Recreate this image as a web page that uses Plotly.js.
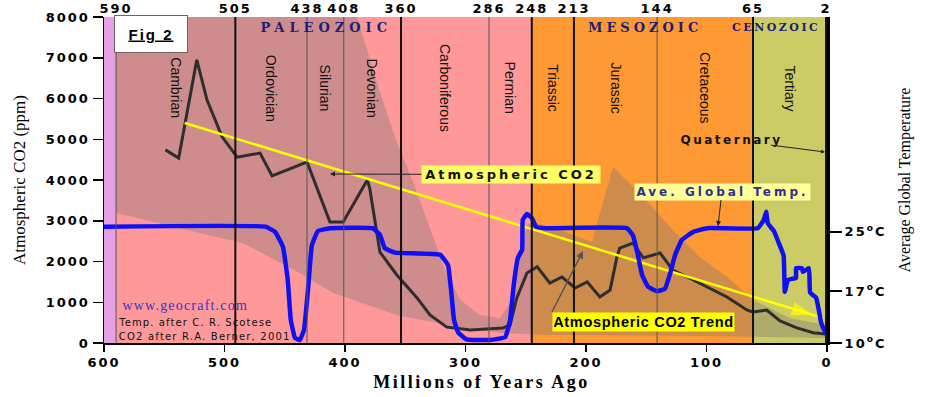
<!DOCTYPE html>
<html><head><meta charset="utf-8">
<script src="https://cdn.plot.ly/plotly-3.0.1.min.js"></script>
<style>html,body{margin:0;padding:0;background:#fff}#chart{width:925px;height:397px}</style>
</head><body><div id="chart"></div>
<script>
// ---------------- data ----------------
const co2Age = [549, 538, 523, 514.5, 502, 489.5, 470.5, 460.5, 431.5, 412.5, 401.5, 381.5, 379.5, 371, 357, 340, 329.5, 315.5, 296, 269, 263, 257.5, 249, 240.5, 230, 220, 209, 199, 188.5, 180, 174.5, 172, 161, 152.5, 138.5, 128, 116, 105.5, 83, 66.5, 61.5, 50, 39, 25, 11.5, 1];
const co2Ppm = [4740, 4540, 6950, 5960, 5060, 4560, 4660, 4100, 4440, 2970, 2970, 4000, 3800, 2230, 1670, 1100, 690, 390, 320, 370, 440, 1100, 1720, 1870, 1470, 1620, 1350, 1500, 1130, 1300, 2090, 2330, 2450, 2090, 2210, 1790, 1620, 1470, 1130, 810, 760, 810, 540, 370, 250, 220];

const tempAge = [600, 466, 458, 451.5, 447.5, 445, 441.5, 437.5, 434, 430.5, 427.5, 422.5, 412.5, 377, 371, 367, 358.5, 321, 314.5, 312, 309.5, 306, 299, 280, 267, 263, 260, 256.5, 253, 252.5, 249, 245, 241.5, 234, 166, 161, 157, 153.5, 148.5, 141, 134.5, 130.5, 126, 120.5, 111, 99.5, 57.5, 52.5, 50.5, 49, 44, 40, 36, 35, 32.5, 25.7, 25.7, 20.7, 20, 15, 14, 9, 6.5, 5, 2.5, 0.5];
const tempC = [25.7, 25.7, 25.0, 23.0, 18.5, 13.1, 10.7, 10.4, 11.8, 17.6, 23.2, 25.1, 25.5, 25.5, 24.6, 22.8, 22.2, 21.9, 20.5, 17.2, 13.1, 11.4, 10.5, 10.4, 10.8, 13.1, 17.8, 21.5, 22.6, 26.6, 27.4, 26.9, 25.7, 25.5, 25.5, 24.5, 21.9, 19.2, 17.6, 17.0, 17.3, 19.2, 21.9, 23.9, 25.0, 25.5, 25.5, 26.6, 27.7, 26.1, 25.1, 23.5, 21.8, 16.9, 18.5, 18.8, 20.1, 20.1, 19.6, 20.1, 16.8, 16.1, 14.2, 12.8, 11.8, 11.2];

// CO2 uncertainty envelope
const envUpperAge = [590, 390, 381.5, 371, 357, 343.5, 329.5, 317, 304.5, 288, 271.5, 261.5, 255, 249, 244, 221.5, 195, 188.5, 177.5, 152.5, 128, 105.5, 83, 61.5, 30.5, 0.8];
const envUpperPpm = [8000, 8000, 7190, 6160, 4930, 3950, 2820, 1790, 1060, 690, 610, 1060, 2040, 2900, 2970, 2770, 2480, 3190, 4320, 3580, 2770, 2110, 1620, 1060, 610, 440];
const envLowerAge = [0.8, 105.5, 238, 271.5, 304.5, 354.5, 410, 437.5, 484.5, 590];
const envLowerPpm = [120, 170, 200, 250, 390, 660, 1230, 1720, 2450, 3190];

// trend line (start, end)
const trendAge = [533, 3];
const trendPpm = [5400, 610];

// period boundaries (as drawn) and their labels on the top axis
const boundaryAge = [590, 491, 431.5, 401, 353.5, 280.5, 245, 210, 141, 61.4, 0.8];
const boundaryLabels = ['590', '505', '438', '408', '360', '286', '248', '213', '144', '65', '2'];
const boundaryMajor = [false, true, false, false, true, false, true, true, false, true, true];
const periodNames = ['Cambrian', 'Ordovician', 'Silurian', 'Devonian', 'Carboniferous', 'Permian', 'Triassic', 'Jurassic', 'Cretaceous', 'Tertiary'];
const eraNames = ['PALEOZOIC', 'MESOZOIC', 'CENOZOIC'];

// background bands (age from, age to)
const bandFrom = [600, 590, 245, 61.4];
const bandTo = [590, 245, 61.4, 0];

const xTicks = [600, 500, 400, 300, 200, 100, 0];
const yTicks = [0, 1000, 2000, 3000, 4000, 5000, 6000, 7000, 8000];
const tempTicks = [10, 17, 25];
const tempTickText = ['10<sup>o</sup>C', '17<sup>o</sup>C', '25<sup>o</sup>C'];

// ---------------- layout helpers ----------------
const L = 104, R = 827, T = 17, B = 343;
const X = px => (px - L) / (R - L);
const Y = py => (B - py) / (B - T);
const bandColors = ['#E6A0E6', '#FF9999', '#FF9933', '#CCCC66'];
const tickFont = {family: 'DejaVu Sans', size: 13, color: '#000', weight: 'bold'};

// ---------------- traces ----------------
const envelope = {
  x: envUpperAge.concat(envLowerAge), y: envUpperPpm.concat(envLowerPpm),
  type: 'scatter', mode: 'lines', fill: 'toself', fillcolor: 'rgba(125,118,118,0.38)',
  line: {width: 0}, hoverinfo: 'skip', xaxis: 'x', yaxis: 'y'
};
function boundaryTrace(major) {
  const xs = [], ys = [];
  boundaryAge.forEach((a, i) => { if (boundaryMajor[i] === major) { xs.push(a, a, null); ys.push(0, 8000, null); } });
  return {x: xs, y: ys, type: 'scatter', mode: 'lines', xaxis: 'x2', yaxis: 'y',
    line: {color: major ? '#111' : '#555', width: major ? 2 : 1}, hoverinfo: 'skip'};
}
const co2 = {x: co2Age, y: co2Ppm, type: 'scatter', mode: 'lines', xaxis: 'x', yaxis: 'y',
  line: {color: '#2e2e2e', width: 3}};
const temp = {x: tempAge, y: tempC, type: 'scatter', mode: 'lines', xaxis: 'x', yaxis: 'y2',
  line: {color: '#1010F5', width: 4.5, shape: 'spline', smoothing: 0.3}};
// trend: start, arrow-head point (near the end), end
const headT = 0.983;
const trend = {
  x: [trendAge[0], trendAge[0] + headT * (trendAge[1] - trendAge[0]), trendAge[1]],
  y: [trendPpm[0], trendPpm[0] + headT * (trendPpm[1] - trendPpm[0]), trendPpm[1]],
  type: 'scatter', mode: 'lines+markers', xaxis: 'x', yaxis: 'y', cliponaxis: false,
  line: {color: '#FFFF00', width: 2.5},
  marker: {symbol: ['circle', 'arrow', 'circle'], size: [0, 22, 0], angleref: 'previous', color: '#FFFF00', line: {width: 0}}
};

// ---------------- shapes ----------------
const shapes = bandFrom.map((f, i) => ({type: 'rect', xref: 'x', yref: 'paper', x0: f, x1: bandTo[i], y0: 0, y1: 1,
  fillcolor: bandColors[i], line: {width: 0}, layer: 'below'}));

// ---------------- annotations ----------------
const ann = [];
const base = {xref: 'paper', yref: 'paper', xanchor: 'center', yanchor: 'middle', showarrow: false};
ann.push(Object.assign({}, base, {x: X(150.5), y: Y(33.5), text: '<b><u>Fig 2</u></b>',
  bgcolor: '#fff', bordercolor: '#666', borderwidth: 1, width: 70, height: 34,
  font: {family: 'Liberation Sans', size: 15, color: '#000'}}));
const eraPx = [326, 645, 776];
eraNames.forEach((n, i) => ann.push(Object.assign({}, base, {x: X(eraPx[i]), y: Y(27), text: n,
  font: {family: 'DejaVu Serif', size: i === 2 ? 11 : 13, color: '#1C1C7C', weight: 'bold'}})));
periodNames.forEach((n, i) => ann.push(Object.assign({}, base, {xref: 'x', x: (boundaryAge[i] + boundaryAge[i + 1]) / 2, y: Y(88),
  text: n, textangle: 90, font: {family: 'Liberation Sans', size: 14, color: '#111'}})));
// labels with pointer arrows (text sits at the arrow tail)
ann.push(Object.assign({}, base, {x: X(330), y: Y(174), ax: 181, ay: 0.5, showarrow: true,
  arrowcolor: '#222', arrowwidth: 1, arrowhead: 2, arrowsize: 1,
  text: 'Atmospheric CO2', bgcolor: '#FFFF66', borderpad: 1, width: 176,
  font: {family: 'DejaVu Sans', size: 13, color: '#111', weight: 'bold'}}));
ann.push(Object.assign({}, base, {x: X(718), y: Y(226), ax: 4, ay: -34.5, showarrow: true,
  arrowcolor: '#222', arrowwidth: 1, arrowhead: 2, arrowsize: 1,
  text: 'Ave. Global Temp.', bgcolor: '#FFFF99', borderpad: 1, width: 173,
  font: {family: 'DejaVu Sans', size: 12, color: '#2E2E8F', weight: 'bold'}}));
ann.push(Object.assign({}, base, {x: X(583), y: Y(251), ax: -31, ay: 61, xanchor: 'left', yanchor: 'top', showarrow: true,
  arrowcolor: '#555', arrowwidth: 1.5, arrowhead: 2, arrowsize: 1,
  text: 'Atmospheric CO2 Trend', bgcolor: '#FFFF00', borderpad: 1, width: 179,
  font: {family: 'Liberation Sans', size: 14.5, color: '#000', weight: 'bold'}}));
ann.push(Object.assign({}, base, {x: X(825), y: Y(152), ax: -94, ay: -12, showarrow: true,
  arrowcolor: '#222', arrowwidth: 1, arrowhead: 2, arrowsize: 0.8,
  text: 'Quaternary', font: {family: 'DejaVu Sans', size: 12, color: '#111', weight: 'bold'}}));
// credits (centred so that widened lettering stays in place)
ann.push(Object.assign({}, base, {x: X(185), y: Y(305), text: 'www.geocraft.com',
  font: {family: 'Liberation Serif', size: 14, color: '#3535C8'}}));
ann.push(Object.assign({}, base, {x: X(195.5), y: Y(322), text: 'Temp. after C. R. Scotese',
  font: {family: 'DejaVu Sans', size: 10, color: '#111'}}));
ann.push(Object.assign({}, base, {x: X(204), y: Y(336), text: 'CO2 after R.A. Berner, 2001',
  font: {family: 'DejaVu Sans', size: 10, color: '#111'}}));

const layout = {
  width: 925, height: 397, paper_bgcolor: '#fff', plot_bgcolor: '#fff', showlegend: false,
  margin: {l: L, r: 925 - R, t: T, b: 397 - B},
  xaxis: {range: [600, 0], tickvals: xTicks, ticks: 'outside', ticklen: 7, tickwidth: 1.5, tickcolor: '#000',
    showline: true, linecolor: '#000', linewidth: 1.5, showgrid: false, zeroline: false, tickfont: tickFont,
    title: {text: 'Millions of Years Ago', standoff: 6, font: {family: 'Liberation Serif', size: 18, color: '#000', weight: 'bold'}}},
  xaxis2: {range: [600, 0], overlaying: 'x', side: 'top', tickvals: boundaryAge, ticktext: boundaryLabels, ticks: '',
    showline: false, showgrid: false, zeroline: false, tickfont: tickFont},
  yaxis: {range: [0, 8000], tickvals: yTicks, ticks: 'outside', ticklen: 10, tickwidth: 1.5, tickcolor: '#000',
    showline: true, linecolor: '#000', linewidth: 1.5, showgrid: false, zeroline: false, tickfont: tickFont,
    title: {text: 'Atmospheric CO2 (ppm)', standoff: 24, font: {family: 'Liberation Serif', size: 17, color: '#000'}}},
  yaxis2: {range: [10, 54], overlaying: 'y', side: 'right', tickvals: tempTicks, ticktext: tempTickText,
    ticks: 'outside', ticklen: 12, tickwidth: 1.5, tickcolor: '#000', showline: true, linecolor: '#000', linewidth: 3,
    showgrid: false, zeroline: false, tickfont: tickFont,
    title: {text: 'Average Global Temperature', standoff: 22, font: {family: 'Liberation Serif', size: 16, color: '#000'}}},
  shapes: shapes,
  annotations: ann
};

Plotly.newPlot('chart', [envelope, boundaryTrace(false), boundaryTrace(true), co2, temp, trend], layout,
  {staticPlot: true, displayModeBar: false}).then(gd => {
  // the reference uses very wide lettering; widen the glyph spacing to match
  const spacing = {
    'PALEOZOIC': 5, 'MESOZOIC': 4, 'CENOZOIC': 2.5, 'Atmospheric CO2': 3, 'Ave. Global Temp.': 3,
    'Atmospheric CO2 Trend': 0.7, 'Quaternary': 2.5, 'www.geocraft.com': 1.2,
    'Temp. after C. R. Scotese': 1.1, 'CO2 after R.A. Berner, 2001': 1.2, 'Fig 2': 2
  };
  gd.querySelectorAll('.annotation-text').forEach(t => {
    const s = spacing[t.textContent];
    if (s) t.style.letterSpacing = s + 'px';
  });
  gd.querySelectorAll('.xtick text, .ytick text, .x2tick text, .y2tick text').forEach(t => { t.style.letterSpacing = '2px'; });
  gd.querySelectorAll('.xtitle').forEach(t => {
    t.style.letterSpacing = '2.5px';
    t.setAttribute('x', parseFloat(t.getAttribute('x')) + 16);
  });
});
</script>
</body></html>
